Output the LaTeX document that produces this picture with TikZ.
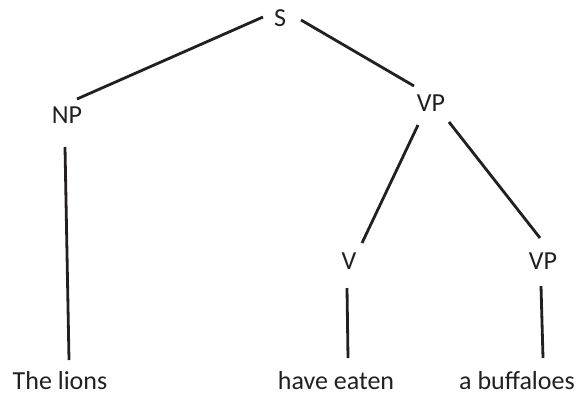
\documentclass[tikz,border=0pt]{standalone}
\usepackage{fontspec}
\setmainfont{Carlito}
\usetikzlibrary{calc}
\definecolor{ink}{HTML}{231F20}
\begin{document}
\begin{tikzpicture}[x=1pt,y=-1pt,
  lbl/.style={anchor=base,inner sep=0pt,font=\fontsize{26}{31}\selectfont,text=ink},
  edge/.style={draw=ink,line width=2.8pt}]
\useasboundingbox (0,0) rectangle (585,394);
\node[lbl] (S) at (280,26) {S};
\node[lbl] (NP) at (67,123) {NP};
\node[lbl] (VP) at (431,111) {VP};
\node[lbl] (V) at (349,269) {V};
\node[lbl] (VP2) at (543,269) {VP};
\node[lbl] (lions) at (60,389) {The lions};
\node[lbl] (eaten) at (336,389) {have eaten};
\node[lbl] (buff) at (517,389) {a buffaloes};
\draw[edge] ($(S.base)+(-17,-9)$) -- ($(NP.base)+(10,-24)$);
\draw[edge] ($(S.base)+(21,-6)$) -- ($(VP.base)+(-17,-25)$);
\draw[edge] ($(VP.base)+(-13,14)$) -- ($(V.base)+(13,-26)$);
\draw[edge] ($(VP.base)+(18,11)$) -- ($(VP2.base)+(-3,-31)$);
\draw[edge] ($(NP.base)+(-2,24)$) -- ($(lions.base)+(9,-29)$);
\draw[edge] ($(V.base)+(-2,19)$) -- ($(eaten.base)+(12,-31)$);
\draw[edge] ($(VP2.base)+(-2,17)$) -- ($(buff.base)+(26,-31)$);
\end{tikzpicture}
\end{document}
